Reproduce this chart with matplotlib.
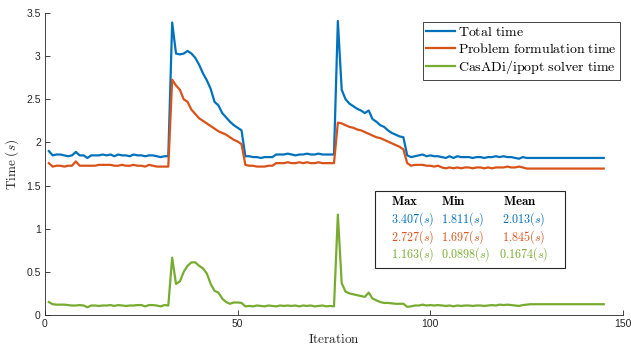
import matplotlib
matplotlib.use("Agg")
import matplotlib.pyplot as plt
import numpy as np

plt.rcParams['mathtext.fontset'] = 'cm'
plt.rcParams['font.family'] = ['Liberation Sans', 'DejaVu Sans']

# ---------------- data ----------------
iterations = list(range(1, 146))

total_time = [
    1.90, 1.85, 1.86, 1.86, 1.85, 1.84, 1.85, 1.89, 1.85, 1.85,
    1.82, 1.85, 1.85, 1.85, 1.86, 1.85, 1.86, 1.84, 1.86, 1.85,
    1.85, 1.84, 1.86, 1.85, 1.85, 1.84, 1.85, 1.85, 1.84, 1.83,
    1.84, 1.84, 3.39, 3.03, 3.02, 3.03, 3.06, 3.03, 2.98, 2.90,
    2.80, 2.72, 2.62, 2.47, 2.43, 2.34, 2.29, 2.24, 2.20, 2.17,
    2.14, 1.84, 1.84, 1.83, 1.83, 1.82, 1.83, 1.83, 1.83, 1.86,
    1.86, 1.86, 1.87, 1.86, 1.85, 1.86, 1.86, 1.87, 1.86, 1.86,
    1.87, 1.86, 1.86, 1.86, 1.86, 3.407, 2.61, 2.50, 2.45, 2.42,
    2.39, 2.37, 2.34, 2.37, 2.27, 2.24, 2.20, 2.18, 2.14, 2.11,
    2.09, 2.07, 2.06, 1.85, 1.83, 1.84, 1.85, 1.86, 1.84, 1.85,
    1.84, 1.84, 1.83, 1.82, 1.84, 1.82, 1.84, 1.83, 1.83, 1.83,
    1.82, 1.83, 1.83, 1.82, 1.83, 1.83, 1.84, 1.83, 1.84, 1.83,
    1.83, 1.82, 1.811, 1.83, 1.82, 1.82, 1.82, 1.82, 1.82, 1.82,
    1.82, 1.82, 1.82, 1.82, 1.82, 1.82, 1.82, 1.82, 1.82, 1.82,
    1.82, 1.82, 1.82, 1.82, 1.82,
]

formulation_time = [
    1.76, 1.72, 1.73, 1.73, 1.72, 1.73, 1.73, 1.78, 1.73, 1.73,
    1.73, 1.73, 1.73, 1.74, 1.74, 1.74, 1.74, 1.73, 1.73, 1.74,
    1.73, 1.73, 1.74, 1.73, 1.73, 1.72, 1.74, 1.73, 1.72, 1.72,
    1.72, 1.72, 2.727, 2.66, 2.61, 2.50, 2.47, 2.38, 2.33, 2.28,
    2.25, 2.22, 2.19, 2.16, 2.13, 2.11, 2.09, 2.06, 2.03, 2.01,
    1.98, 1.74, 1.73, 1.73, 1.72, 1.72, 1.72, 1.73, 1.73, 1.76,
    1.76, 1.76, 1.77, 1.76, 1.76, 1.77, 1.76, 1.77, 1.76, 1.76,
    1.77, 1.76, 1.76, 1.76, 1.76, 2.23, 2.22, 2.20, 2.18, 2.17,
    2.15, 2.14, 2.12, 2.10, 2.08, 2.06, 2.05, 2.03, 2.01, 1.99,
    1.97, 1.95, 1.92, 1.76, 1.73, 1.74, 1.74, 1.74, 1.73, 1.73,
    1.72, 1.73, 1.71, 1.70, 1.71, 1.70, 1.71, 1.70, 1.71, 1.71,
    1.70, 1.71, 1.71, 1.70, 1.71, 1.70, 1.71, 1.71, 1.71, 1.72,
    1.71, 1.71, 1.72, 1.71, 1.697, 1.697, 1.697, 1.697, 1.697, 1.697,
    1.697, 1.697, 1.697, 1.697, 1.697, 1.697, 1.697, 1.697, 1.697, 1.697,
    1.697, 1.697, 1.697, 1.697, 1.697,
]

solver_time = [
    0.15, 0.125, 0.12, 0.12, 0.12, 0.115, 0.11, 0.11, 0.115, 0.11,
    0.09, 0.11, 0.11, 0.105, 0.11, 0.11, 0.115, 0.105, 0.115, 0.11,
    0.105, 0.11, 0.11, 0.115, 0.115, 0.10, 0.115, 0.115, 0.11, 0.10,
    0.115, 0.11, 0.664, 0.36, 0.39, 0.50, 0.57, 0.61, 0.61, 0.57,
    0.54, 0.48, 0.36, 0.28, 0.26, 0.19, 0.15, 0.13, 0.145, 0.145,
    0.14, 0.10, 0.105, 0.10, 0.11, 0.105, 0.10, 0.11, 0.105, 0.10,
    0.11, 0.105, 0.11, 0.105, 0.11, 0.10, 0.11, 0.105, 0.11, 0.10,
    0.105, 0.11, 0.10, 0.105, 0.10, 1.163, 0.37, 0.27, 0.25, 0.24,
    0.23, 0.22, 0.21, 0.26, 0.19, 0.17, 0.15, 0.14, 0.14, 0.135,
    0.13, 0.13, 0.13, 0.095, 0.10, 0.11, 0.11, 0.12, 0.11, 0.115,
    0.11, 0.115, 0.11, 0.105, 0.11, 0.10, 0.11, 0.105, 0.11, 0.11,
    0.105, 0.11, 0.11, 0.105, 0.11, 0.115, 0.11, 0.12, 0.115, 0.12,
    0.115, 0.11, 0.105, 0.115, 0.12, 0.125, 0.125, 0.125, 0.125, 0.125,
    0.125, 0.125, 0.125, 0.125, 0.125, 0.125, 0.125, 0.125, 0.125, 0.125,
    0.125, 0.125, 0.125, 0.125, 0.125,
]

series_labels = [r'$\mathrm{Total\ time}$',
                 r'$\mathrm{Problem\ formulation\ time}$',
                 r'$\mathrm{CasADi/ipopt\ solver\ time}$']
colors = ['#0072BD', '#D95319', '#77AC30']

stat_headers = [r'$\mathbf{Max}$', r'$\mathbf{Min}$', r'$\mathbf{Mean}$']
stat_max = ['3.407', '2.727', '1.163']
stat_min = ['1.811', '1.697', '0.0898']
stat_mean = ['2.013', '1.845', '0.1674']

x_ticks = [0, 50, 100, 150]
y_ticks = [0, 0.5, 1, 1.5, 2, 2.5, 3, 3.5]
y_ticklabels = ['0', '0.5', '1', '1.5', '2', '2.5', '3', '3.5']

# ---------------- figure ----------------
W, H = 631, 350
fig = plt.figure(figsize=(W / 100, H / 100), dpi=100)

def px(x, y):
    return x / W, 1 - y / H

l, t = 45, 13
r, b = 623, 315
ax = fig.add_axes([l / W, 1 - b / H, (r - l) / W, (b - t) / H])

for ys, c, lab in zip([total_time, formulation_time, solver_time], colors, series_labels):
    ax.plot(iterations, ys, color=c, lw=1.6, label=lab)

ax.set_xlim(0, 150)
ax.set_ylim(0, 3.5)
ax.set_xticks(x_ticks)
ax.set_yticks(y_ticks)
ax.set_yticklabels(y_ticklabels)
for s in ['top', 'right']:
    ax.spines[s].set_visible(False)
for s in ['left', 'bottom']:
    ax.spines[s].set_color('#262626')
    ax.spines[s].set_linewidth(0.6)
ax.tick_params(direction='in', length=3.5, width=0.6, colors='#262626',
               labelsize=7.5, pad=3)

ax.set_xlabel(r'$\mathrm{Iteration}$', fontsize=9.5, color='#262626', labelpad=3)
ax.set_ylabel(r'$\mathrm{Time}\ (s)$', fontsize=9.5, color='#262626', labelpad=4)

leg = ax.legend(loc='upper left', bbox_to_anchor=px(422.7, 21.7),
                bbox_transform=fig.transFigure, fontsize=10, frameon=True,
                fancybox=False, framealpha=1, edgecolor='#262626',
                handlelength=2.1, handletextpad=0.2, labelspacing=0.18,
                borderpad=0.25, borderaxespad=0)
leg.get_frame().set_linewidth(0.6)

# statistics box
x0, y0, x1, y1 = 374.5, 190.5, 564.5, 268
fx0, fy0 = px(x0, y1)
fx1, fy1 = px(x1, y0)
rect = plt.Rectangle((fx0, fy0), fx1 - fx0, fy1 - fy0, transform=fig.transFigure,
                     fill=True, facecolor='white', edgecolor='#262626', lw=0.8, zorder=5)
fig.add_artist(rect)

row_y = [201.7, 219.3, 237.3, 254.3]
fs = 8.7
for j, (hx, hdr) in enumerate(zip([390.7, 441, 502.7], stat_headers)):
    fig.text(*px(hx, row_y[0]), hdr, fontsize=9.3, ha='left', va='center', zorder=6)
for i in range(3):
    yy = row_y[i + 1]
    fig.text(*px(390.7, yy), r'$%s(s)$' % stat_max[i], color=colors[i],
             fontsize=fs, ha='left', va='center', zorder=6)
    fig.text(*px(440.7, yy), r'$%s(s)$' % stat_min[i], color=colors[i],
             fontsize=fs, ha='left', va='center', zorder=6)
    fig.text(*px(523.5, yy), r'$%s(s)$' % stat_mean[i], color=colors[i],
             fontsize=fs, ha='center', va='center', zorder=6)

fig.savefig('out.png', dpi=100)
